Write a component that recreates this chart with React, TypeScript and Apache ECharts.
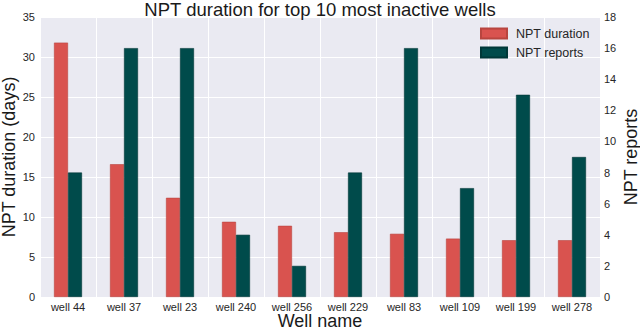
import React, { useEffect, useRef } from "react";
import * as echarts from "echarts";

const wells = ["well 44", "well 37", "well 23", "well 240", "well 256", "well 229", "well 83", "well 109", "well 199", "well 278"];
const nptDuration = [31.8, 16.6, 12.4, 9.4, 8.9, 8.1, 7.9, 7.3, 7.1, 7.1];
const nptReports = [8, 16, 16, 4, 2, 8, 16, 7, 13, 9];

const FONT = "Liberation Sans";

export default function App() {
  const ref = useRef<HTMLDivElement>(null);
  useEffect(() => {
    if (!ref.current) return;
    const chart = echarts.init(ref.current, null, { renderer: "svg" });
    chart.setOption({
      animation: false,
      textStyle: { fontFamily: FONT },
      title: {
        text: "NPT duration for top 10 most inactive wells",
        left: "center",
        top: 0,
        padding: 0,
        textStyle: { fontFamily: FONT, fontSize: 18.5, fontWeight: "normal", color: "#1a1a1a" },
      },
      legend: {
        orient: "vertical",
        left: 475,
        top: 22,
        itemWidth: 26,
        itemHeight: 10,
        itemGap: 6,
        icon: "rect",
        textStyle: { fontFamily: FONT, fontSize: 12.5, color: "#262626", padding: [0, 0, 0, 4] },
        data: ["NPT duration", "NPT reports"],
      },
      grid: {
        left: 40,
        right: 40,
        top: 17,
        bottom: 34,
        backgroundColor: "#EAEAF2",
        show: true,
        borderWidth: 0,
        outerBoundsMode: "none",
        containLabel: false,
      },
      xAxis: [
        {
          type: "category",
          data: wells,
          name: "Well name",
          nameLocation: "middle",
          nameGap: 15,
          nameMoveOverlap: false,
          nameTextStyle: { fontFamily: FONT, fontSize: 18, color: "#1a1a1a" },
          axisLine: { show: false },
          axisTick: { show: false },
          axisLabel: { fontFamily: FONT, fontSize: 11, color: "#262626", margin: 4 },
          splitLine: { show: false },
        },
        {
          type: "value",
          position: "bottom",
          min: -0.5,
          max: 9.5,
          interval: 1,
          axisLine: { show: false },
          axisTick: { show: false },
          axisLabel: { show: false },
          splitLine: { show: true, lineStyle: { color: "#ffffff", width: 1 } },
        },
      ],
      yAxis: [
        {
          type: "value",
          min: 0,
          max: 35,
          interval: 5,
          name: "NPT duration (days)",
          nameLocation: "middle",
          nameGap: 22,
          nameMoveOverlap: false,
          nameTextStyle: { fontFamily: FONT, fontSize: 18, color: "#1a1a1a" },
          axisLine: { show: false },
          axisTick: { show: false },
          axisLabel: { fontFamily: FONT, fontSize: 11, color: "#262626", margin: 5 },
          splitLine: { show: true, lineStyle: { color: "#ffffff", width: 1 } },
        },
        {
          type: "value",
          min: 0,
          max: 18,
          interval: 2,
          name: "NPT reports",
          nameLocation: "middle",
          nameGap: 22,
          nameMoveOverlap: false,
          nameTextStyle: { fontFamily: FONT, fontSize: 18, color: "#1a1a1a" },
          axisLine: { show: false },
          axisTick: { show: false },
          axisLabel: { fontFamily: FONT, fontSize: 11, color: "#262626", margin: 4 },
          splitLine: { show: false },
        },
      ],
      series: [
        {
          name: "NPT duration",
          type: "bar",
          xAxisIndex: 0,
          yAxisIndex: 0,
          data: nptDuration,
          barWidth: 14,
          barGap: "0%",
          itemStyle: { color: "#D9534F", borderColor: "#b8453f", borderWidth: 0.6 },
        },
        {
          name: "NPT reports",
          type: "bar",
          xAxisIndex: 0,
          yAxisIndex: 1,
          data: nptReports,
          barWidth: 14,
          barGap: "0%",
          itemStyle: { color: "#004B4B", borderColor: "#003838", borderWidth: 0.6 },
        },
      ],
    });
    return () => chart.dispose();
  }, []);
  return <div ref={ref} style={{ position: "absolute", left: 0, top: 0, width: 640, height: 331 }} />;
}
